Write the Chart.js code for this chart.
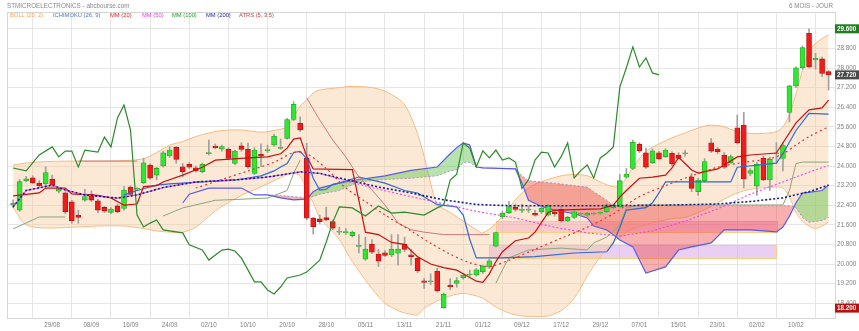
<!DOCTYPE html>
<html lang="fr">
<head>
<meta charset="UTF-8">
<title>STMICROELECTRONICS - 6 mois</title>
<script src="https://cdn.jsdelivr.net/npm/chart.js@4"></script>
<style>
  html, body { margin: 0; padding: 0; background: #fff; overflow: hidden; }
  canvas { display: block; }
</style>
</head>
<body>
<canvas id="chart" width="859" height="331"></canvas>
<script>
// x axis: one slot per trading day (0 = 21/08), labelled every 6 sessions
const tickIdx = [6, 12, 18, 24, 30, 36, 42, 48, 54, 60, 66, 72, 78, 84, 90, 96, 102, 108, 114, 120];
const tickDates = ['29/08', '08/09', '16/09', '24/09', '02/10', '10/10', '20/10', '28/10', '05/11', '13/11',
                   '21/11', '01/12', '09/12', '17/12', '29/12', '07/01', '15/01', '23/01', '02/02', '10/02'];
const priceTicks = [18.4, 19.2, 20.0, 20.8, 21.6, 22.4, 23.2, 24.0, 24.8, 25.6, 26.4, 27.2, 28.0, 28.8, 29.6];

// daily candles
const opens = [22.42,22.2,23.4,23.52,23.3,23.27,23.47,22.97,22.91,22.54, 22.0,22.61,22.84,22.58,22.31,22.11,22.37,22.27,23.13,23.06,
  23.32,24.04,23.63,24.0,24.41,24.76,23.97,24.07,23.93,23.77, 24.5,24.8,24.69,24.68,24.11,24.82,24.68,23.7,24.48,24.62,
  24.86,24.72,25.13,25.9,25.74,24.31,21.87,21.84,21.89,21.73, 21.3,21.28,21.16,20.72,20.2,20.8,20.41,20.46,20.37,20.44,
  20.8,20.37,20.23,19.31,19.27,19.71,18.22,19.14,19.21,19.44, 19.55,19.55,19.68,19.87,20.73,21.93,22.1,22.31,22.19,22.2,
  22.07,22.13,22.0,22.13,22.23,21.77,21.9,22.03,21.99,22.04, 22.07,22.13,22.3,22.34,23.54,23.9,24.89,24.54,24.13,24.54,
  24.38,24.52,24.45,24.5,23.56,22.95,23.4,24.95,24.69,24.45, 24.13,25.56,25.67,23.7,23.18,24.31,23.43,24.5,24.31,26.19,
  27.27,28.01,29.42,28.33,28.37,27.85];
const highs = [22.62,23.45,23.58,23.6,23.4,23.97,23.63,23.12,22.95,22.6, 22.2,23.05,22.98,22.65,22.35,22.3,22.45,23.16,23.2,23.12,
  24.31,24.1,23.95,24.6,24.79,24.8,24.1,24.15,24.0,24.12, 25.06,24.9,24.85,24.75,24.65,24.95,24.94,24.75,24.9,24.85,
  25.3,25.1,25.95,26.62,26.01,24.93,21.9,22.0,22.32,21.8, 21.5,21.45,21.35,21.2,21.1,21.0,20.6,20.55,21.2,21.2,
  21.1,20.6,20.3,19.42,19.6,19.82,18.82,19.4,19.45,19.62, 19.75,19.82,19.95,20.2,21.3,22.15,22.55,22.45,22.45,22.35,
  22.2,22.35,22.45,22.2,22.35,21.95,22.2,22.1,22.1,22.12, 22.15,22.45,22.45,23.65,23.9,25.06,24.95,24.73,24.7,24.6,
  24.7,24.58,24.55,24.65,23.7,23.5,24.3,25.12,24.75,24.55, 24.45,26.08,26.19,23.9,24.15,24.4,24.35,24.95,24.95,27.3,
  28.05,28.9,29.6,28.6,28.45,27.9];
const lows = [22.3,22.15,23.35,23.28,23.15,23.2,23.15,22.9,22.05,21.66, 21.66,22.55,22.55,22.1,22.1,22.05,22.08,22.2,22.8,23.02,
  23.28,23.45,23.43,23.95,24.35,24.11,23.56,23.9,23.75,23.72, 24.45,24.7,24.6,24.25,24.05,24.6,23.9,23.65,23.97,24.55,
  24.8,24.68,25.1,25.85,25.4,21.8,21.22,21.65,21.75,21.4, 21.2,21.2,21.1,20.45,20.15,20.42,19.9,20.3,20.3,19.95,
  20.5,19.95,19.65,19.0,19.15,18.85,18.2,18.95,19.05,19.38, 19.5,19.5,19.62,19.82,20.7,21.85,22.05,22.15,22.1,22.1,
  21.95,22.05,21.95,21.95,21.7,21.72,21.85,21.98,21.95,21.98, 22.0,22.1,22.25,22.3,23.5,23.85,24.55,23.9,24.1,24.25,
  24.35,24.0,24.28,24.4,22.95,22.8,23.35,24.55,24.5,23.9, 24.1,24.9,23.1,23.6,22.8,23.4,23.0,24.1,23.8,25.8,
  27.2,27.95,28.0,27.95,27.65,27.1];
const closes = [22.48,23.36,23.48,23.32,23.2,23.73,23.22,23.05,22.13,21.77, 21.9,22.75,22.61,22.2,22.16,22.24,22.13,23.02,22.84,23.1,
  24.13,23.5,23.9,24.54,24.65,24.27,23.77,23.95,23.81,24.07, 24.55,24.75,24.79,24.31,24.61,24.68,23.97,24.65,24.4,24.67,
  25.22,24.76,25.9,26.52,25.47,21.87,21.52,21.73,21.8,21.46, 21.33,21.3,21.29,20.74,20.61,20.48,20.12,20.35,20.6,20.61,
  20.6,20.3,19.73,19.25,19.31,18.91,18.76,19.07,19.32,19.55, 19.57,19.76,19.92,20.13,21.28,22.07,22.34,22.23,22.21,22.2,
  21.99,22.27,22.38,22.04,21.77,21.9,22.13,22.05,22.07,22.05, 22.09,22.38,22.41,23.4,23.67,24.97,24.62,23.95,24.62,24.29,
  24.65,24.08,24.31,24.53,23.09,23.43,24.18,24.61,24.58,23.95, 24.38,24.95,23.47,23.81,24.08,23.43,24.27,24.54,24.83,27.27,
  28.01,28.83,28.05,28.4,27.78,27.72];

// Bollinger (20, 2) bands
const bollIdx = [0,2,5,9,13,17,20,22,24,26, 28,30,32,35,38,40,42,43,44,45, 46,47,50,52,55,57,59,60,61,62,
  63,64,65,67,69,71,72,74,76,78, 80,82,84,86,88,90,92,93,94,95, 97,99,101,103,105,107,109,111,113,115, 117,118,119,120,121,122,123,124,125];
const bollUp = [24.04,24.12,24.18,24.2,24.2,24.22,24.3,24.55,24.85,25.0, 25.2,25.35,25.45,25.47,25.38,25.45,25.6,26.0,26.45,26.7,
  26.98,27.1,27.2,27.25,27.2,27.05,26.75,26.5,26.0,25.3, 24.4,23.3,22.45,22.1,21.75,21.4,21.27,21.65,22.3,22.9,
  23.25,23.45,23.6,23.65,23.6,23.35,23.15,23.2,23.5,23.95, 24.6,24.9,25.15,25.35,25.55,25.67,25.6,25.4,25.33,25.33,
  25.4,25.6,26.1,26.95,27.9,28.7,29.0,29.2,29.35];
const bollLo = [22.3,21.6,21.47,21.5,21.55,21.55,21.45,21.35,21.3,21.3, 21.5,21.95,22.35,22.8,23.15,23.4,23.65,23.7,23.6,23.0,
  22.5,21.9,21.0,20.1,19.0,18.4,18.1,18.0,17.95,17.92, 18.2,18.35,18.5,18.7,18.8,18.7,18.6,18.25,18.0,17.88,
  17.86,17.88,18.1,18.6,19.5,20.3,20.9,21.1,21.3,21.45, 21.6,21.75,21.85,21.9,22.1,22.35,22.65,22.9,23.05,23.12,
  23.14,23.1,22.75,22.1,21.75,21.55,21.45,21.55,21.72];

// Ichimoku (26, 9)
const cloudIdx = [39,41,43,45,46,47,50,53,57,61, 65,67,68,69,70,71,72,77,78,79, 81,83,86,88,89,91,92,93,95,97,
  100,102,104,107,109,113,117,118,119,120, 121,122,124,125];
const senkouA = [22.82,22.7,22.62,22.65,22.95,23.1,23.3,23.45,23.6,23.82, 23.96,24.5,24.75,24.94,24.86,23.96,23.92,23.88,23.3,22.6,
  22.35,22.2,22.05,21.88,21.55,21.39,21.2,20.98,20.7,19.63, 19.88,20.57,20.7,20.86,21.39,21.39,21.31,21.51,21.95,22.5,
  22.9,22.92,23.0,23.22];
const senkouB = [22.82,22.8,22.75,22.7,22.75,22.85,23.0,23.35,23.45,23.5, 23.6,23.8,23.85,24.15,24.15,23.96,23.92,23.88,23.6,23.4,
  23.35,23.3,23.2,23.14,22.95,22.6,22.38,22.38,22.38,22.38, 22.38,22.38,22.38,22.38,22.38,22.38,22.38,22.38,22.38,22.3,
  21.9,21.7,21.78,21.9];
const senkouAEarly = [[26,22.49],[27,22.85],[30,23.1],[35,23.1],[37,22.82],[39,22.82]];
const tenkan = [[0,22.78],[4,22.9],[5,23.1],[8,23.1],[9,22.86],[13,22.8],[15,22.7],[17,22.4],[19,22.45],[20,23.16],
  [22,23.2],[23,23.35],[26,23.63],[29,23.95],[31,24.24],[36,24.33],[39,24.37],[41,24.5],[42,24.73],[43,25.1],
  [44,25.15],[45,24.4],[46,23.88],[52,23.85],[53,22.6],[54,21.3],[56,21.2],[58,20.88],[60,20.8],[62,20.3],
  [64,20.0],[66,19.85],[68,19.75],[69,19.6],[71,19.3],[72,19.25],[73,19.6],[74,20.1],[75,20.5],[77,20.95],
  [79,21.06],[80,21.3],[82,22.1],[83,22.2],[90,22.25],[92,22.4],[93,22.73],[94,23.0],[96,23.5],[98,23.55],
  [100,23.63],[101,23.92],[102,24.35],[103,24.1],[104,23.84],[105,23.71],[108,23.88],[111,24.37],[113,24.45],[117,24.53],
  [118,24.95],[120,25.76],[122,26.29],[124,26.37],[125,26.69]];
const kijun = [[17,22.82],[19,23.0],[22,23.22],[24,23.27],[29,23.35],[34,23.43],[36,23.51],[38,23.6],[40,23.8],[41,23.96],
  [42,24.1],[43,24.55],[44,24.6],[45,24.3],[46,23.5],[47,23.02],[48,23.05],[49,23.25],[50,23.31],[53,23.55],
  [57,23.3],[60,23.0],[62,22.9],[65,22.42],[68,22.33],[69,22.0],[70,21.0],[71,20.25],[75,20.25],[80,20.3],
  [86,20.45],[91,20.5],[92,20.86],[93,21.5],[94,22.2],[97,22.3],[98,22.5],[99,22.9],[100,23.35],[110,23.35],
  [111,23.95],[117,24.12],[118,24.5],[120,25.45],[122,26.15],[125,26.12]];
const chikou = [[0,23.92],[2,23.8],[4,24.45],[6,24.78],[7,24.37],[8,24.61],[9,24.61],[10,23.96],[11,24.65],[13,24.57],
  [14,25.18],[15,24.78],[16,25.96],[17,26.49],[18,25.47],[19,22.0],[20,21.51],[21,21.67],[22,21.8],[23,21.39],
  [26,21.27],[27,20.78],[29,20.57],[30,20.16],[32,20.57],[33,20.61],[34,20.53],[35,20.24],[37,19.27],[38,19.27],
  [39,18.94],[40,18.78],[41,19.06],[42,19.43],[44,19.55],[45,19.67],[47,20.16],[48,20.9],[49,21.71],[50,22.33],
  [52,22.29],[54,21.96],[56,22.37],[58,22.08],[60,22.12],[63,22.0],[65,22.29],[66,22.41],[67,23.43],[68,23.67],
  [69,24.94],[70,24.73],[71,23.96],[72,24.62],[73,24.33],[74,24.65],[75,24.24],[76,24.33],[77,24.16],[78,23.09],
  [79,23.43],[80,24.24],[81,24.57],[82,24.53],[83,23.96],[84,24.38],[85,24.94],[86,23.51],[87,23.81],[88,24.04],
  [89,23.51],[90,24.33],[91,24.52],[92,24.78],[93,27.22],[94,28.01],[95,28.86],[96,28.04],[97,28.41],[98,27.8],[99,27.72]];

// moving averages
const mm20 = [[28,23.1],[32,23.45],[36,23.8],[40,24.15],[43,24.55],[45,24.5],[48,23.9],[51,23.1],[54,22.55],[57,22.0],
  [61,21.35],[64,20.85],[67,20.4],[70,20.05],[73,19.9],[76,20.15],[80,20.6],[84,21.05],[88,21.5],[92,22.05],
  [96,22.75],[100,23.2],[104,23.6],[108,23.95],[112,24.15],[116,24.3],[118,24.5],[120,24.85],[122,25.2],[125,25.6]];
const mm50 = [[0,22.33],[2,23.0],[6,23.22],[8,23.02],[11,22.82],[16,22.69],[19,22.82],[23,23.12],[28,23.35],[34,23.43],
  [39,23.55],[44,23.76],[47,23.7],[51,23.4],[56,23.05],[61,22.75],[66,22.45],[71,22.15],[77,21.88],[83,21.5],
  [88,21.27],[93,21.14],[98,21.35],[103,21.75],[108,22.25],[113,22.85],[118,23.35],[122,23.75],[125,24.02]];
const mm200 = [[0,22.33],[2,23.0],[6,23.22],[8,23.02],[11,22.82],[16,22.69],[19,22.82],[23,23.12],[28,23.35],[34,23.43],
  [39,23.55],[44,23.76],[47,23.7],[51,23.45],[56,23.14],[61,22.9],[66,22.62],[71,22.43],[76,22.38],[90,22.38],
  [100,22.4],[108,22.45],[113,22.55],[118,22.7],[122,22.95],[125,23.22]];

// ATR stop (5, 3.5): long side below price, short side above price
const atrsLong = [[0,21.43],[4,21.92],[8,21.92],[9,null],[23,21.96],[26,22.29],[31,22.6],[39,22.69],[42,23.0],[43,23.7],
  [44,24.24],[45,null],[74,19.22],[75,19.76],[76,20.25],[79,20.57],[84,20.65],[88,20.57],[89,20.86],[91,21.1],
  [93,21.59],[94,22.29],[96,22.41],[118,22.41],[119,23.0],[120,24.1],[121,24.16],[125,24.16]];
const atrsShort = [[10,24.2],[19,24.2],[20,null],[45,26.78],[47,25.88],[49,25.06],[51,24.37],[53,23.55],[55,23.02],
  [57,22.41],[59,21.67],[61,21.4],[63,21.3],[66,21.2],[73,21.2]];

// price zones
const zoneFrom = [74, 73];
const zoneTo = [117, 117];
const zoneLow = [21.31, 20.24];
const zoneHigh = [21.76, 20.78];

const FONT = '"Liberation Sans", Arial, sans-serif';
const pts = arr => arr.map(([i, v]) => ({ x: i, y: v }));
const zip = (idx, vals) => idx.map((i, k) => ({ x: i, y: vals[k] }));
const idx = closes.map((_, i) => i);
const up = closes.map((c, i) => c >= opens[i]);

function line(label, data, color, extra) {
  return Object.assign({
    type: 'line', label, data, borderColor: color, borderWidth: 1.2,
    pointRadius: 0, fill: false, tension: 0, order: 0, spanGaps: false
  }, extra || {});
}

const overlay = {
  id: 'overlay',
  beforeDatasetsDraw(chart) {
    const { ctx, scales: { x, y } } = chart;
    const fills = ['rgba(236,120,200,0.38)', 'rgba(214,160,232,0.5)'];
    ctx.save();
    zoneFrom.forEach((from, k) => {
      const x0 = x.getPixelForValue(from), x1 = x.getPixelForValue(zoneTo[k]);
      const y0 = y.getPixelForValue(zoneHigh[k]), y1 = y.getPixelForValue(zoneLow[k]);
      ctx.fillStyle = fills[k];
      ctx.fillRect(x0, y0, x1 - x0, y1 - y0);
      ctx.strokeStyle = 'rgba(246,206,120,0.95)';
      ctx.lineWidth = 1;
      ctx.strokeRect(Math.round(x0) + 0.5, Math.round(y0) + 0.5, Math.round(x1 - x0), Math.round(y1 - y0));
    });
    ctx.restore();
  },
  afterDraw(chart) {
    const { ctx, chartArea: a, scales: { y } } = chart;
    ctx.save();
    ctx.strokeStyle = '#d6d6d6';
    ctx.lineWidth = 1;
    ctx.strokeRect(a.left + 0.5, a.top + 0.5, a.right - a.left, a.bottom - a.top);

    ctx.textBaseline = 'middle';
    ctx.font = '6.3px ' + FONT;
    ctx.fillStyle = '#8a8a8a';
    ctx.textAlign = 'left';
    ctx.fillText('STMICROELECTRONICS - abcbourse.com', 7, 6);
    ctx.textAlign = 'right';
    ctx.fillText('6 MOIS - JOUR', 833, 6);

    const legend = [['BOLL (20, 2)', '#f2a65a', 10], ['ICHIMOKU (26, 9)', '#4a78c8', 53], ['MM (20)', '#e81c1c', 110],
      ['MM (50)', '#ea3cea', 142], ['MM (100)', '#22a022', 172], ['MM (200)', '#1c1ca8', 206], ['ATRS (5, 3.5)', '#c83c3c', 239]];
    ctx.textAlign = 'left';
    ctx.font = '5.8px ' + FONT;
    legend.forEach(([t, c, lx]) => { ctx.fillStyle = c; ctx.fillText(t, lx, 15.5); });

    const tags = [[Math.max(...highs), '#1f7d1f'], [closes[closes.length - 1], '#4a4a4a'], [Math.min(...lows), '#b51313']];
    ctx.font = 'bold 6.3px ' + FONT;
    tags.forEach(([v, c]) => {
      const py = y.getPixelForValue(v);
      ctx.fillStyle = c;
      ctx.fillRect(a.right, py - 4.5, 24, 9);
      ctx.fillStyle = '#fff';
      ctx.fillText(v.toFixed(3), a.right + 2, py + 0.5);
    });
    ctx.restore();
  }
};

new Chart(document.getElementById('chart'), {
  type: 'line',
  data: {
    datasets: [
      line('MM (200)', pts(mm200), '#101c8c', { borderWidth: 1.6, borderDash: [2, 2] }),
      line('MM (50)', pts(mm50), '#ee44ee', { borderWidth: 1.1, borderDash: [2, 2], borderDashOffset: 2 }),
      line('MM (20)', pts(mm20), '#e83030', { borderWidth: 1.2, borderDash: [2, 3], tension: 0.3 }),
      line('Chikou', pts(chikou), '#2b8a2b'),
      line('Tenkan', pts(tenkan), '#c81010'),
      line('Kijun', pts(kijun), '#2f6bd0'),
      line('ATRS long', pts(atrsLong), '#8aa676', { borderWidth: 1 }),
      line('ATRS short', pts(atrsShort), '#c87a7a', { borderWidth: 1 }),
      {
        type: 'bar', label: 'corps', data: idx.map(i => ({ x: i, y: [opens[i], closes[i]] })),
        backgroundColor: up.map(u => u ? '#33e533' : '#f01c1c'),
        borderColor: up.map(u => u ? '#25a825' : '#b81010'),
        borderWidth: 0.8, borderSkipped: false, barThickness: 5, minBarLength: 1, grouped: false, order: 2
      },
      {
        type: 'bar', label: 'meches', data: idx.map(i => ({ x: i, y: [lows[i], highs[i]] })),
        backgroundColor: '#a0a0a0', borderWidth: 0, barThickness: 1, grouped: false, order: 3
      },
      line('Senkou A', zip(cloudIdx, senkouA), '#5a5ae8', {
        order: 6, fill: { target: '+1', above: 'rgba(96,196,76,0.45)', below: 'rgba(236,64,64,0.42)' }
      }),
      line('Senkou B', zip(cloudIdx, senkouB), '#9c9ce0', { order: 6, borderWidth: 1, borderDash: [2, 2] }),
      line('Senkou A0', pts(senkouAEarly), '#5a5ae8', { order: 6 }),
      line('BOLL haut', zip(bollIdx, bollUp), '#f6ba82', {
        order: 8, borderWidth: 1, tension: 0.3, fill: { target: '+1', above: 'rgba(248,200,150,0.4)', below: 'rgba(248,200,150,0.4)' }
      }),
      line('BOLL bas', zip(bollIdx, bollLo), '#f6ba82', { order: 8, borderWidth: 1, tension: 0.3 })
    ]
  },
  options: {
    responsive: false,
    devicePixelRatio: 1,
    animation: false,
    events: [],
    layout: { padding: { left: 7, top: 12, right: 0, bottom: 0 } },
    plugins: { legend: { display: false }, tooltip: { enabled: false } },
    scales: {
      x: {
        type: 'linear', min: -0.935, max: 125.98, offset: false,
        afterBuildTicks: s => { s.ticks = tickIdx.map(v => ({ value: v })); },
        afterFit: s => { s.height = 13; },
        grid: { color: '#e6e6e6', drawTicks: false },
        border: { color: '#d6d6d6' },
        ticks: {
          autoSkip: false, maxRotation: 0, padding: 3, color: '#808080', font: { family: FONT, size: 6.3 },
          callback: v => { const k = tickIdx.indexOf(v); return k >= 0 ? tickDates[k] : null; }
        }
      },
      y: {
        type: 'linear', position: 'right', min: 17.796, max: 30.286,
        afterBuildTicks: s => { s.ticks = priceTicks.map(v => ({ value: v })); },
        afterFit: s => { s.width = 24; },
        grid: { color: '#e6e6e6', drawTicks: false },
        border: { color: '#d6d6d6' },
        ticks: { padding: 2, color: '#808080', font: { family: FONT, size: 6.3 }, callback: v => v.toFixed(3) }
      }
    }
  },
  plugins: [overlay]
});
</script>
</body>
</html>
